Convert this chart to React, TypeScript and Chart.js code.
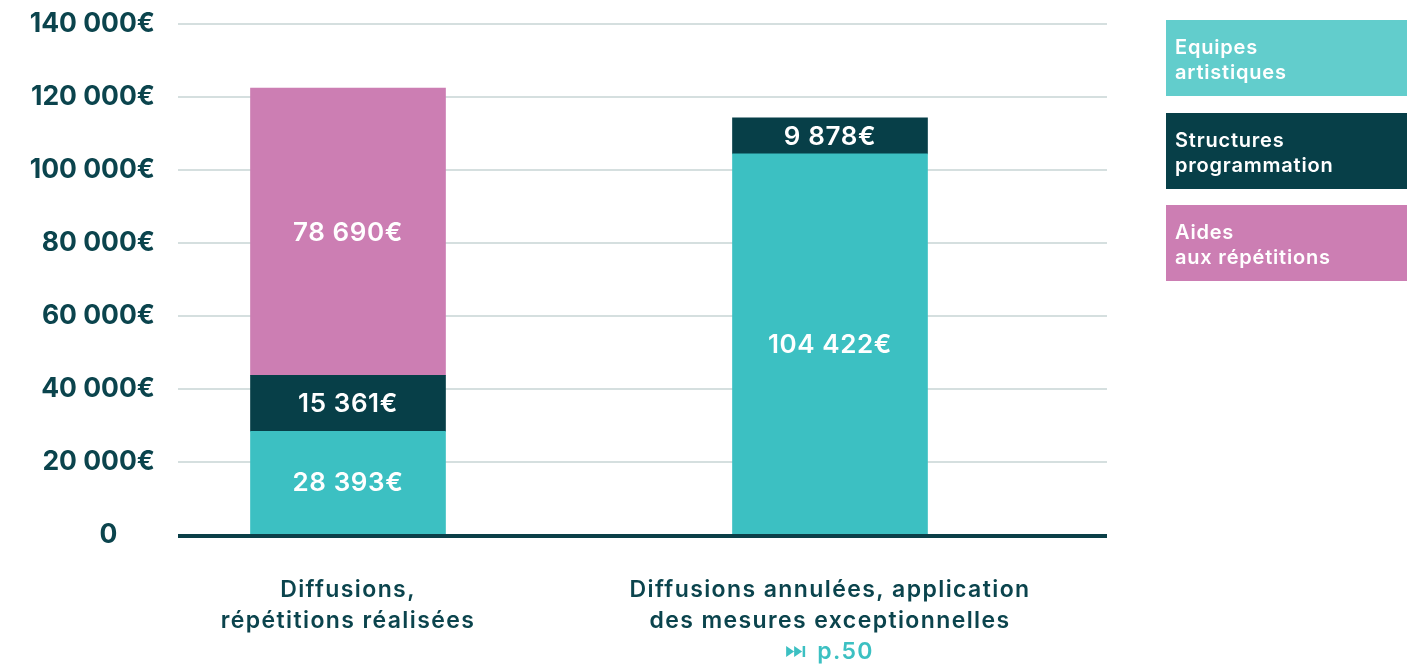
import React, { useEffect, useRef } from "react";
import { Chart, registerables } from "chart.js";

Chart.register(...registerables);

const categories: string[][] = [
  ["Diffusions,", "répétitions réalisées"],
  ["Diffusions annulées, application", "des mesures exceptionnelles"],
];
const categoryLinks: (string | null)[] = [null, "p.50"];
const seriesNames: string[][] = [
  ["Equipes", "artistiques"],
  ["Structures", "programmation"],
  ["Aides", "aux répétitions"],
];
const equipes: (number | null)[] = [28393, 104422];
const structures: (number | null)[] = [15361, 9878];
const aides: (number | null)[] = [78690, null];
const yTicks: number[] = [0, 20000, 40000, 60000, 80000, 100000, 120000, 140000];

const barColors = ["#3cc0c2", "#073f48", "#cc7eb3"];
const legendColors = ["#62cdcc", "#073f48", "#cc7eb3"];
const DARK = "#0b444d";
const FONT = "Inter, 'Open Sans', sans-serif";

const fmt = (v: number) =>
  String(Math.round(v)).replace(/\B(?=(\d{3})+(?!\d))/g, " ");

const valueLabels = {
  id: "valueLabels",
  afterDatasetsDraw(chart: any) {
    const ctx = chart.ctx;
    ctx.save();
    ctx.fillStyle = "#ffffff";
    ctx.font = `600 26px ${FONT}`;
    (ctx as any).letterSpacing = "0.6px";
    ctx.textAlign = "center";
    ctx.textBaseline = "middle";
    chart.data.datasets.forEach((ds: any, di: number) => {
      const meta = chart.getDatasetMeta(di);
      meta.data.forEach((el: any, i: number) => {
        const raw = ds.data[i];
        const v = raw && raw.y;
        if (!v) return;
        const y = (el.y + el.base) / 2;
        ctx.fillText(fmt(v) + "€", el.x, y + 1);
      });
    });
    (ctx as any).letterSpacing = "0px";
    // baseline
    const ys = chart.scales.y;
    const area = chart.chartArea;
    const y0 = ys.getPixelForValue(0) + 1;
    ctx.fillStyle = "#0b3f48";
    ctx.fillRect(area.left, y0 - 2, area.right - area.left, 4);
    ctx.restore();
  },
  afterDraw(chart: any) {
    const ctx = chart.ctx;
    const xs = chart.scales.x;
    const area = chart.chartArea;
    ctx.save();
    // category labels
    ctx.font = `600 23px ${FONT}`;
    (ctx as any).letterSpacing = "1.4px";
    ctx.textAlign = "center";
    ctx.textBaseline = "alphabetic";
    categories.forEach((lines, i) => {
      const cx = xs.getPixelForValue(i);
      let by = area.bottom + 62;
      ctx.fillStyle = DARK;
      lines.forEach((ln) => {
        ctx.fillText(ln, cx, by);
        by += 31;
      });
      const link = categoryLinks[i];
      if (link) {
        ctx.fillStyle = barColors[0];
        const tw = ctx.measureText(link).width;
        const iconW = 19;
        const gap = 12;
        const start = cx - (iconW + gap + tw) / 2;
        const top = by - 13;
        const h = 11;
        ctx.beginPath();
        ctx.moveTo(start, top);
        ctx.lineTo(start + 8, top + h / 2);
        ctx.lineTo(start, top + h);
        ctx.closePath();
        ctx.moveTo(start + 8, top);
        ctx.lineTo(start + 16, top + h / 2);
        ctx.lineTo(start + 8, top + h);
        ctx.closePath();
        ctx.fill();
        ctx.fillRect(start + 16.5, top, 2.5, h);
        ctx.textAlign = "left";
        ctx.fillText(link, start + iconW + gap, by);
        ctx.textAlign = "center";
      }
    });
    // legend
    const lx = 1166;
    const lw = 241;
    const boxTops = [20, 113, 205];
    const boxH = 76;
    ctx.font = `600 20px ${FONT}`;
    (ctx as any).letterSpacing = "0.8px";
    ctx.textAlign = "left";
    ctx.textBaseline = "middle";
    seriesNames.forEach((lines, i) => {
      const t = boxTops[i];
      ctx.fillStyle = legendColors[i];
      ctx.fillRect(lx, t, lw, boxH);
      ctx.fillStyle = "#ffffff";
      lines.forEach((ln, j) => {
        ctx.fillText(ln, lx + 9, t + 28 + j * 25);
      });
    });
    (ctx as any).letterSpacing = "0px";
    ctx.restore();
  },
};

export default function App() {
  const ref = useRef<HTMLCanvasElement | null>(null);
  useEffect(() => {
    if (!ref.current) return;
    const mk = (arr: (number | null)[]) =>
      arr.map((v, i) => ({ x: i, y: v }));
    const chart = new Chart(ref.current, {
      type: "bar",
      data: {
        datasets: [
          { label: seriesNames[0].join(" "), data: mk(equipes), backgroundColor: barColors[0] },
          { label: seriesNames[1].join(" "), data: mk(structures), backgroundColor: barColors[1] },
          { label: seriesNames[2].join(" "), data: mk(aides), backgroundColor: barColors[2] },
        ] as any,
      },
      options: {
        animation: false,
        responsive: false,
        maintainAspectRatio: false,
        devicePixelRatio: 1,
        layout: { padding: { top: 24, right: 313, left: 0, bottom: 0 } },
        datasets: { bar: { barThickness: 195, borderWidth: 0 } } as any,
        plugins: {
          legend: { display: false },
          tooltip: { enabled: false },
        },
        scales: {
          x: {
            type: "linear",
            stacked: true,
            offset: false,
            bounds: "data",
            min: -0.3527,
            max: 1.5747,
            grid: { display: false },
            border: { display: false },
            ticks: { display: false },
            afterFit: (s: any) => {
              s.height = 133;
              s.paddingLeft = 0;
              s.paddingRight = 0;
            },
          },
          y: {
            stacked: true,
            min: 0,
            max: 140000,
            afterBuildTicks: (s: any) => {
              s.ticks = yTicks.map((v) => ({ value: v }));
            },
            grid: { color: "#d5dfdf", lineWidth: 2, drawTicks: false },
            border: { display: false },
            ticks: {
              padding: 23,
              color: DARK,
              font: { family: FONT, size: 26.5, weight: "bold" as any },
              callback: (v: any) =>
                v === 0 ? "0      " : fmt(v) + "€",
            },
            afterFit: (s: any) => {
              s.width = 178;
              s.paddingTop = 0;
              s.paddingBottom = 0;
            },
          },
        },
      } as any,
      plugins: [valueLabels],
    });
    return () => chart.destroy();
  }, []);
  return (
    <div style={{ position: "fixed", left: 0, top: 0, width: 1420, height: 668, background: "#fff" }}>
      <canvas ref={ref} width={1420} height={668} style={{ width: 1420, height: 668, display: "block" }} />
    </div>
  );
}
